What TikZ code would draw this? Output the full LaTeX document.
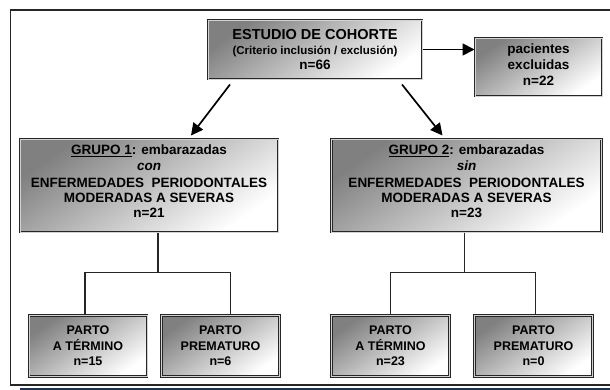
\documentclass[tikz,border=0pt]{standalone}
\usepackage{fontspec}
\setmainfont{Liberation Sans}
\usetikzlibrary{arrows.meta}
\definecolor{boxline}{HTML}{262626}
\definecolor{bardark}{HTML}{1E3350}

\begin{document}
\begin{tikzpicture}[x=1pt,y=-1pt,font=\fontsize{13.5}{15}\selectfont\bfseries,
  gbox/.style={draw=boxline,line width=1pt,double=gray!35,double distance=0.6pt,
    top color=gray!100,bottom color=white,shading angle=35,align=center,inner sep=0pt},
  arr/.style={line width=1.7pt,-{Triangle[length=12pt,width=12pt]}},
  tree/.style={line width=1.4pt,draw=boxline}]
  \useasboundingbox (0,0) rectangle (610,390);
  % outer frame, cut on the right
  \draw[boxline,line width=1.1pt] (612,10) -- (10.5,10) -- (10.5,385) -- (612,385);
  \fill[bardark] (20,387.5) rectangle (612,391);

  \node[gbox,minimum width=214pt,minimum height=59pt] (cohorte) at (315,49.5)
    {{\fontsize{14.5}{17.5}\selectfont ESTUDIO DE COHORTE}\\
     {\fontsize{11.5}{17.5}\selectfont (Criterio inclusión / exclusión)}\\
     {\fontsize{13.5}{17.5}\selectfont n=66}};
  \node[gbox,minimum width=127pt,minimum height=58pt,text depth=4pt,font=\fontsize{13.5}{16}\selectfont\bfseries] (excl) at (538.5,67)
    {pacientes\\excluidas\\n=22};

  \node[gbox,minimum width=258pt,minimum height=93pt,text depth=8pt] (g1) at (149,185.5)
    {\underline{GRUPO 1}: embarazadas\\[1pt]
     \textit{con}\\[2pt]
     ENFERMEDADES\ \ PERIODONTALES\\
     MODERADAS A SEVERAS\\
     n=21};
  \node[gbox,minimum width=270pt,minimum height=93pt,text depth=8pt] (g2) at (466.5,185.5)
    {\underline{GRUPO 2}: embarazadas\\[1pt]
     \textit{sin}\\[2pt]
     ENFERMEDADES\ \ PERIODONTALES\\
     MODERADAS A SEVERAS\\
     n=23};

  \begin{scope}[font=\fontsize{12.5}{15.5}\selectfont\bfseries]
    \node[gbox,minimum width=118pt,minimum height=61pt] (t1) at (88,346) {PARTO\\A TÉRMINO\\n=15};
    \node[gbox,minimum width=118pt,minimum height=61pt] (p1) at (220.5,346) {PARTO\\PREMATURO\\n=6};
    \node[gbox,minimum width=118pt,minimum height=61pt] (t2) at (390.5,346) {PARTO\\A TÉRMINO\\n=23};
    \node[gbox,minimum width=118pt,minimum height=61pt] (p2) at (533.5,346) {PARTO\\PREMATURO\\n=0};
  \end{scope}

  \draw[arr] (cohorte.east) -- (cohorte.east -| excl.west);
  \draw[arr] ([xshift=-85pt,yshift=-5pt]cohorte.south) -- ([xshift=42pt,yshift=3pt]g1.north);
  \draw[arr] ([xshift=87pt,yshift=-5pt]cohorte.south) -- ([xshift=-24pt,yshift=3pt]g2.north);

  \draw[tree] ([xshift=9pt]g1.south) -- ++(0,40) coordinate (j1);
  \draw[tree] ([xshift=-3pt]t1.north) |- (j1) -| ([xshift=10pt]p1.north);
  \draw[tree] ([xshift=-2pt]g2.south) -- ++(0,40) coordinate (j2);
  \draw[tree] (t2.north) |- (j2) -| ([xshift=2pt]p2.north);
\end{tikzpicture}
\end{document}
